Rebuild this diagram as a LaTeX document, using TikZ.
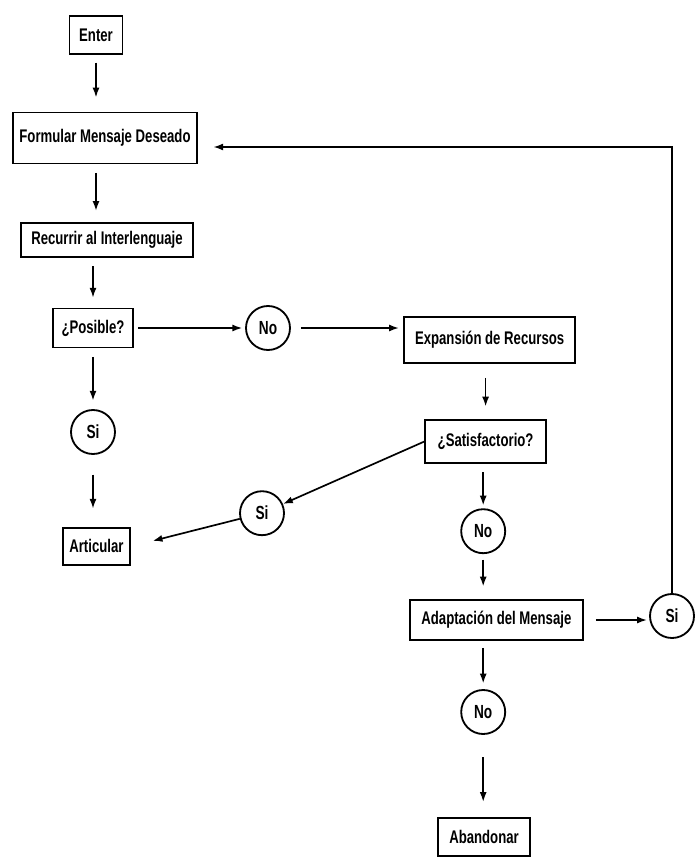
\documentclass[tikz,border=0pt]{standalone}
\usepackage{fontspec}
\usetikzlibrary{arrows.meta}
\newfontfamily\condfont{Liberation Sans}[FakeStretch=0.72]
\tikzstyle{caja}=[rectangle,draw=black,line width=1.2pt,inner sep=0pt,
  font=\condfont\bfseries\fontsize{13}{14}\selectfont]
\tikzstyle{disc}=[circle,draw=black,line width=1.3pt,inner sep=0pt,
  minimum size=1.1cm,font=\condfont\bfseries\fontsize{13.5}{14}\selectfont]
\tikzstyle{flecha}=[line width=1.2pt,-{Latex[length=7pt,width=5pt]},
  shorten <=6pt,shorten >=6pt]
\tikzstyle{none}=[]

\begin{document}
\begin{tikzpicture}
    \useasboundingbox (0,0) rectangle (17.35,-21.45);
            \node [style=caja, minimum width=1.33cm, minimum height=0.95cm] (0) at (2.4, -0.875) {Enter};
            \node [style=caja, minimum width=4.6cm, minimum height=1.28cm] (1) at (2.625, -3.45) {Formular Mensaje Deseado};
            \node [style=caja, minimum width=4.3cm, minimum height=0.85cm] (2) at (2.675, -6.0) {Recurrir al Interlenguaje};
            \node [style=caja, minimum width=2.0cm, minimum height=0.98cm] (3) at (2.325, -8.2) {¿Posible?};
            \node [style=disc] (4) at (6.7, -8.2) {No};
            \node [style=caja, minimum width=4.28cm, minimum height=1.15cm] (5) at (12.24, -8.5) {Expansión de Recursos};
            \node [style=disc] (6) at (2.325, -10.8) {Si};
            \node [style=caja, minimum width=3.03cm, minimum height=1.08cm] (7) at (12.14, -11.04) {¿Satisfactorio?};
            \node [style=disc] (8) at (6.55, -12.83) {Si};
            \node [style=caja, minimum width=1.68cm, minimum height=0.93cm] (9) at (2.41, -13.66) {Articular};
            \node [style=disc] (10) at (12.08, -13.28) {No};
            \node [style=caja, minimum width=4.33cm, minimum height=1.0cm] (11) at (12.41, -15.5) {Adaptación del Mensaje};
            \node [style=disc] (12) at (16.8, -15.4) {Si};
            \node [style=disc] (13) at (12.08, -17.8) {No};
            \node [style=caja, minimum width=2.3cm, minimum height=0.95cm] (14) at (12.1, -20.93) {Abandonar};
            \coordinate (15) at (16.8, -3.675);
            \draw [style=flecha, shorten <=5.5pt, shorten >=10pt] (0) to (0 |- 1.north);
            \draw [style=flecha, shorten >=8pt] (0 |- 1.south) to (0 |- 2.north);
            \draw [style=flecha, shorten >=7pt] (3 |- 2.south) to (3);
            \draw [style=flecha] (3) to (6);
            \draw [style=flecha, shorten <=14pt, shorten >=13pt] (6) to (6 |- 9.north);
            \draw [style=flecha, shorten <=3pt, shorten >=2pt] (3) to (4);
            \draw [style=flecha, shorten <=7pt, shorten >=3pt] (4) to (4 -| 5.west);
            \draw [style=flecha, shorten <=10pt, shorten >=9pt] (7 |- 5.south) to (7);
            \draw [style=flecha, shorten <=0pt, shorten >=0pt] (7.west) to (8);
            \draw [style=flecha, shorten <=0pt, shorten >=16pt] (8) to (9.east);
            \draw [style=flecha, shorten >=2pt] (10 |- 7.south) to (10);
            \draw [style=flecha, shorten <=4pt, shorten >=9pt] (10) to (10 |- 11.north);
            \draw [style=flecha, shorten <=8.5pt, shorten >=1.5pt] (11) to (11 -| 12.west);
            \draw [style=flecha, shorten <=5pt, shorten >=4pt] (13 |- 11.south) to (13);
            \draw [style=flecha, shorten <=16pt, shorten >=11pt] (13) to (13 |- 14.north);
            \draw [style=flecha, shorten <=0pt, shorten >=11pt] (12) -- (15) -- (15 -| 1.east);
    \end{tikzpicture}
\end{document}
